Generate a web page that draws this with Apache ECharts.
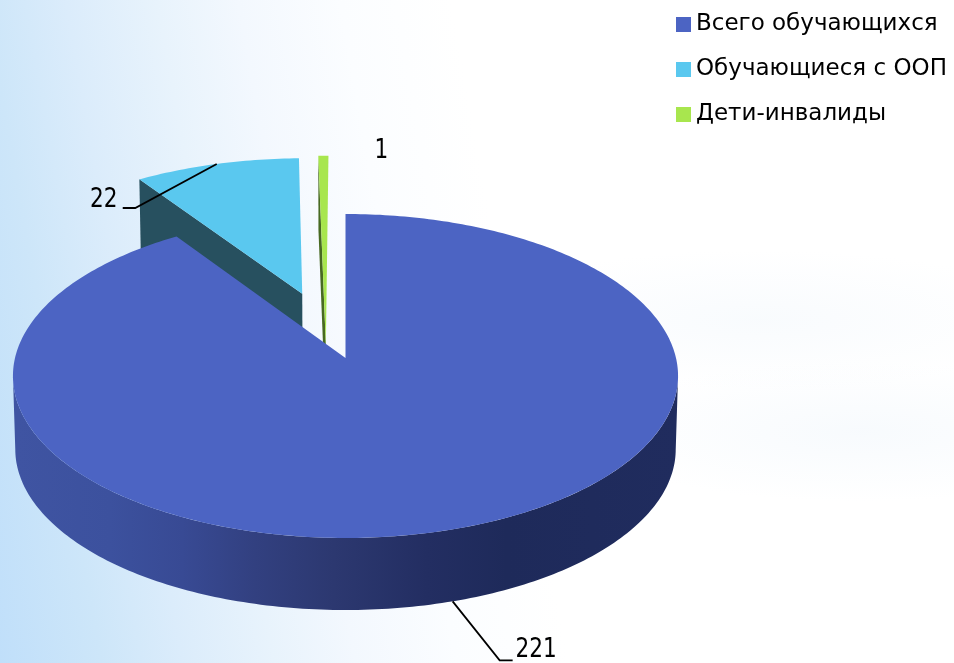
<!DOCTYPE html>
<html><head><meta charset="utf-8">
<style>
html,body{margin:0;padding:0;width:954px;height:663px;overflow:hidden;background:
 radial-gradient(ellipse 280px 70px at 860px 432px,rgba(236,244,251,.4),rgba(255,255,255,0) 100%),
 radial-gradient(ellipse 300px 70px at 760px 320px,rgba(236,244,251,.35),rgba(255,255,255,0) 100%),
 linear-gradient(80deg,#c0dffa 0px,#cde6f9 100px,#dbecfb 180px,#e8f3fc 270px,#f3f8fe 350px,#fbfdff 450px,#ffffff 560px);}
#c{width:954px;height:663px}
</style>
<script src="https://cdn.jsdelivr.net/npm/echarts@6/dist/echarts.min.js"></script>
</head><body><div id="c"></div>
<script>
// chart data
var categories = ['Всего обучающихся', 'Обучающиеся с ООП', 'Дети-инвалиды'];
var values = [221, 22, 1];
// drawing style for each slice
var faceColors = ['#4c64c3', '#5ac8ef', '#a8e64e'];
var wallColors = ['#2f3e80', '#27505f', '#486a22'];
var explodes = [[0, 0], [-0.137, 0.42], [-0.06, 0.08]];
var radiusScales = [1, 1.03, 1.39];
var labelLeaders = [[[47, 59], [60, 59]], [[-81.5, 44], [-94, 44]], null];
var labelOffsets = [[83.5, 49], [-113, 36], [58, -5]];

var total = values.reduce(function (a, b) { return a + b; }, 0);
var V = { cx: 345.5, cy: 358, a: 330.5, b: 160, k: 0.111, depth: 73.3, bottomScale: 0.993 };

function proj(u, v, low) {
  var w = 1 + V.k * v, s = low ? V.bottomScale : 1;
  return [V.cx + V.a * s * u / w, V.cy - V.b * s * v / w + (low ? V.depth : 0)];
}
function rim(t, e, rs, low) {
  return proj(e[0] + rs * Math.sin(t), e[1] + rs * Math.cos(t), low);
}
function arc(t0, t1, e, rs, low) {
  var pts = [], n = Math.max(2, Math.ceil(Math.abs(t1 - t0) * 60));
  for (var i = 0; i <= n; i++) {
    pts.push(rim(t0 + (t1 - t0) * i / n, e, rs, low));
  }
  return pts;
}
function sliceRange(idx) {
  var before = 0;
  for (var i = 0; i < idx; i++) before += values[i];
  return [before / total * 2 * Math.PI, (before + values[idx]) / total * 2 * Math.PI];
}
var black = '#000';
function render(idx) {
  return function (params, api) {
    var val = api.value(0);
    var r = sliceRange(idx), e = explodes[idx], rs = radiusScales[idx];
    var kids = [];
    var mid = (r[0] + r[1]) / 2;
    var apexTop = proj(e[0], e[1], false), apexLow = proj(e[0], e[1], true);
    if (idx === 0) {
      // the wall runs between the two points where the projected rim is widest
      var t0 = Math.acos(-V.k), t1 = 2 * Math.PI - t0;
      var wall = arc(t0, t1, e, rs, false).concat(arc(t1, t0, e, rs, true));
      kids.push({
        type: 'polygon', shape: { points: wall },
        style: { fill: new echarts.graphic.LinearGradient(17, 0, 678, 0, [
          { offset: 0, color: '#3f54a2' }, { offset: 0.14, color: '#3c519e' }, { offset: 0.25, color: '#384a94' },
          { offset: 0.36, color: '#324080' }, { offset: 0.48, color: '#2c3870' }, { offset: 0.62, color: '#232e62' },
          { offset: 0.74, color: '#1e2a5a' }, { offset: 1, color: '#202c5e' }
        ], true) }
      });
    } else {
      kids.push({
        type: 'polygon',
        shape: { points: [apexTop, rim(r[0], e, rs, false), rim(r[0], e, rs, true), apexLow] },
        style: { fill: wallColors[idx] }
      });
    }
    kids.push({
      type: 'polygon', shape: { points: [apexTop].concat(arc(r[0], r[1], e, rs, false)) },
      style: { fill: faceColors[idx] }
    });
    // value label and leader line
    var anchor = rim(mid, e, rs, idx === 0);
    var ld = labelLeaders[idx];
    if (ld) {
      kids.push({
        type: 'polyline',
        shape: { points: [anchor, [anchor[0] + ld[0][0], anchor[1] + ld[0][1]], [anchor[0] + ld[1][0], anchor[1] + ld[1][1]]] },
        style: { stroke: black, lineWidth: 1.8, fill: null }
      });
    }
    var off = labelOffsets[idx];
    kids.push({
      type: 'text', x: anchor[0] + off[0], y: anchor[1] + off[1], scaleX: 0.8,
      style: { text: String(val), font: '27px "DejaVu Sans"', fill: black, align: 'center', verticalAlign: 'middle' }
    });
    return { type: 'group', children: kids };
  };
}
var drawOrder = [1, 2, 0];
var chart = echarts.init(document.getElementById('c'), null, { renderer: 'canvas' });
chart.setOption({
  animation: false,
  backgroundColor: 'transparent',
  legend: {
    data: categories, orient: 'vertical', left: 671, top: 8, icon: 'rect',
    itemWidth: 15, itemHeight: 15, itemGap: 22, selectedMode: false,
    textStyle: { fontFamily: '"DejaVu Sans"', fontSize: 23, color: '#000', padding: [0, 0, 0, 0] }
  },
  series: drawOrder.map(function (i) {
    return {
      type: 'custom', name: categories[i], coordinateSystem: 'none', silent: true,
      itemStyle: { color: faceColors[i] }, renderItem: render(i), data: [[values[i]]]
    };
  })
});
</script></body></html>
